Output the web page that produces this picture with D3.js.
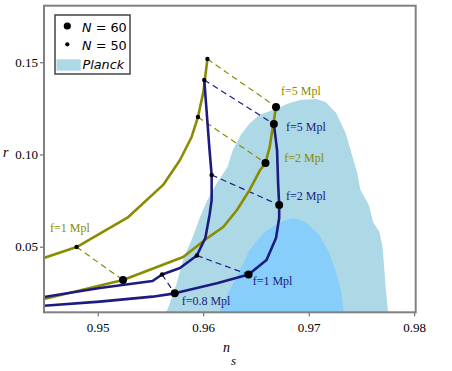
<!DOCTYPE html>
<html>
<head>
<meta charset="utf-8">
<script src="https://cdn.jsdelivr.net/npm/d3@7"></script>
<style>
  body { margin: 0; background: #fff; }
  svg { display: block; }
  .serif { font-family: 'Liberation Serif', 'Times New Roman', Times, serif; }
</style>
</head>
<body>
<div id="canvas"></div>
<script>
// tick values
var xTicks = [0.95, 0.96, 0.97, 0.98];
var yTicks = [0.05, 0.10, 0.15];

// Planck contours (ns, r)
var planckOuter = [[0.9564,0.0144],[0.9566,0.0157],[0.9575,0.0303],[0.9581,0.0428],[0.9590,0.0553],[0.9597,0.0661],
  [0.9604,0.0753],[0.9613,0.0845],[0.9623,0.0932],[0.9628,0.1024],[0.9636,0.1110],[0.9644,0.1168],[0.9653,0.1214],
  [0.9666,0.1241],[0.9682,0.1279],[0.9692,0.1296],[0.9707,0.1301],[0.9716,0.1285],[0.9726,0.1225],[0.9735,0.1117],
  [0.9746,0.0900],[0.9749,0.0808],[0.9757,0.0726],[0.9761,0.0634],[0.9767,0.0580],[0.9770,0.0498],[0.9773,0.0276],
  [0.9775,0.0157],[0.9775,0.0144]];
var planckInner = [[0.9615,0.0144],[0.9616,0.0157],[0.9625,0.0265],[0.9635,0.0374],[0.9644,0.0482],[0.9657,0.0574],
  [0.9673,0.0634],[0.9685,0.0656],[0.9697,0.0634],[0.9710,0.0563],[0.9719,0.0471],[0.9726,0.0363],[0.9731,0.0254],
  [0.9733,0.0157],[0.9733,0.0144]];

// model curves (ns, r)
var oliveN50 = [[0.9449,0.0439],[0.9480,0.0498],[0.9529,0.0661],[0.9562,0.0835],[0.9578,0.0970],[0.9589,0.1095],
  [0.9595,0.1203],[0.9600,0.1334],[0.9604,0.1518]];
var oliveN60 = [[0.9449,0.0216],[0.9524,0.0319],[0.9581,0.0444],[0.9604,0.0547],[0.9619,0.0607],[0.9632,0.0699],
  [0.9644,0.0808],[0.9654,0.0916],[0.9659,0.0954],[0.9663,0.1041],[0.9666,0.1149],[0.9669,0.1258]];
var navyN50 = [[0.9449,0.0227],[0.9502,0.0276],[0.9552,0.0314],[0.9561,0.0349],[0.9578,0.0384],[0.9594,0.0452],
  [0.9602,0.0547],[0.9606,0.0672],[0.9608,0.0753],[0.9608,0.0889],[0.9606,0.1024],[0.9601,0.1404]];
var navyN60 = [[0.9449,0.0180],[0.9502,0.0202],[0.9552,0.0229],[0.9573,0.0247],[0.9613,0.0302],[0.9643,0.0349],
  [0.9660,0.0428],[0.9669,0.0547],[0.9672,0.0656],[0.9672,0.0726],[0.9671,0.0845],[0.9670,0.1024],[0.9667,0.1165]];

// marked f values: N=50 point and N=60 point
var oliveMarks = [
  {f: '5', n50: [0.9604,0.1518], n60: [0.9669,0.1258]},
  {f: '2', n50: [0.9595,0.1203], n60: [0.9659,0.0954]},
  {f: '1', n50: [0.9480,0.0498], n60: [0.9524,0.0319]}
];
var navyMarks = [
  {f: '5', n50: [0.9601,0.1404], n60: [0.9667,0.1165]},
  {f: '2', n50: [0.9608,0.0889], n60: [0.9672,0.0726]},
  {f: '1', n50: [0.9594,0.0452], n60: [0.9643,0.0349]},
  {f: '0.8', n50: [0.9561,0.0349], n60: [0.9573,0.0247]}
];
// label anchors (ns, r) for the f= texts
var oliveLabels = [['f=5 Mpl',0.96737,0.13227],['f=2 Mpl',0.96769,0.09593],['f=1 Mpl',0.94548,0.05813]];
var navyLabels = [['f=5 Mpl',0.96785,0.11274],['f=2 Mpl',0.96785,0.07516],['f=1 Mpl',0.96469,0.02923],['f=0.8 Mpl',0.95796,0.01838]];

var OLIVE = '#8b8b00', NAVY = '#1c1c80';
var SERIF = "'Liberation Serif', 'Times New Roman', Times, serif";

var svg = d3.select('#canvas').append('svg').attr('width', 452).attr('height', 371);

var x = d3.scaleLinear().domain([0.94491, 0.98014]).range([44, 415.7]);
var y = d3.scaleLinear().domain([0.01442, 0.18069]).range([312.3, 5.7]);

svg.append('defs').append('clipPath').attr('id', 'clip')
  .append('rect').attr('x', 44).attr('y', 5.7).attr('width', 371.7).attr('height', 306.6);

var plot = svg.append('g').attr('clip-path', 'url(#clip)');
var line = d3.line().x(function(d){ return x(d[0]); }).y(function(d){ return y(d[1]); });

//Planck regions
plot.append('path').attr('d', line(planckOuter) + 'Z').attr('fill', '#add8e6');
plot.append('path').attr('d', line(planckInner) + 'Z').attr('fill', '#87cefa');

//dashed connectors between N=50 and N=60
function dashes(marks, col){
  plot.selectAll(null).data(marks).enter().append('line')
    .attr('x1', function(d){ return x(d.n50[0]); }).attr('y1', function(d){ return y(d.n50[1]); })
    .attr('x2', function(d){ return x(d.n60[0]); }).attr('y2', function(d){ return y(d.n60[1]); })
    .attr('stroke', col).attr('stroke-width', 1.2).attr('stroke-dasharray', '6,4');
}
dashes(oliveMarks, OLIVE);
dashes(navyMarks, NAVY);

//curves
[[oliveN50, OLIVE],[oliveN60, OLIVE],[navyN50, NAVY],[navyN60, NAVY]].forEach(function(c){
  plot.append('path').attr('d', line(c[0])).attr('fill', 'none')
    .attr('stroke', c[1]).attr('stroke-width', 2.6).attr('stroke-linejoin', 'round');
});

//dots
function dots(marks){
  marks.forEach(function(m){
    plot.append('circle').attr('cx', x(m.n50[0])).attr('cy', y(m.n50[1])).attr('r', 2.2).attr('fill', '#000');
    plot.append('circle').attr('cx', x(m.n60[0])).attr('cy', y(m.n60[1])).attr('r', 4).attr('fill', '#000');
  });
}
dots(oliveMarks);
dots(navyMarks);

//f labels
function labels(list, col){
  svg.selectAll(null).data(list).enter().append('text')
    .attr('x', function(d){ return x(d[1]); }).attr('y', function(d){ return y(d[2]); })
    .attr('fill', col).style('font-family', SERIF).style('font-size', '12px')
    .text(function(d){ return d[0]; });
}
labels(oliveLabels, OLIVE);
labels(navyLabels, NAVY);

//axes
var xAxis = svg.append('g').attr('transform', 'translate(0,312.3)')
  .call(d3.axisBottom(x).tickValues(xTicks).tickFormat(d3.format('.2f')).tickSize(4));
var yAxis = svg.append('g').attr('transform', 'translate(44,0)')
  .call(d3.axisLeft(y).tickValues(yTicks).tickFormat(d3.format('.2f')).tickSize(4).tickPadding(2));
[xAxis, yAxis].forEach(function(a){
  a.attr('font-family', null);
  a.select('.domain').remove();
  a.selectAll('line').attr('stroke', '#555');
  a.selectAll('text').style('font-family', SERIF).style('font-size', '13px').attr('fill', '#000');
});
xAxis.selectAll('text').attr('y', 19.5).attr('dy', 0);

//frame
svg.append('rect').attr('x', 44).attr('y', 5.7).attr('width', 371.7).attr('height', 306.6)
  .attr('fill', 'none').attr('stroke', '#808080').attr('stroke-width', 2);

//axis titles
svg.append('text').attr('x', 3).attr('y', 157).style('font-family', SERIF)
  .style('font-style', 'italic').style('font-size', '14px').text('r');
svg.append('text').attr('x', 223).attr('y', 352).style('font-family', SERIF)
  .style('font-style', 'italic').style('font-size', '14px').text('n');
svg.append('text').attr('x', 231).attr('y', 365).style('font-family', SERIF)
  .style('font-style', 'italic').style('font-size', '13px').text('s');

//legend
var leg = svg.append('g');
leg.append('rect').attr('x', 55).attr('y', 15).attr('width', 75).attr('height', 59)
  .attr('fill', '#fff').attr('stroke', '#444').attr('stroke-width', 1.5);
leg.append('circle').attr('cx', 67.3).attr('cy', 26).attr('r', 3.6).attr('fill', '#000');
leg.append('circle').attr('cx', 67.3).attr('cy', 44.3).attr('r', 2.1).attr('fill', '#000');
leg.append('rect').attr('x', 56.5).attr('y', 59.3).attr('width', 24.2).attr('height', 11.4).attr('fill', '#add8e6');
var legText = [['N', ' = 60', 31.7], ['N', ' = 50', 50]];
legText.forEach(function(t){
  var tx = leg.append('text').attr('x', 82).attr('y', t[2]).attr('font-family', '"DejaVu Sans", sans-serif')
    .attr('font-size', 12.8).attr('fill', '#000');
  tx.append('tspan').attr('font-style', 'italic').text(t[0]);
  tx.append('tspan').attr('xml:space', 'preserve').text(t[1]);
});
leg.append('text').attr('x', 82.5).attr('y', 69.3).attr('font-family', '"DejaVu Sans", sans-serif')
  .attr('font-size', 12.8).attr('font-style', 'italic').text('Planck');
</script>
</body>
</html>
